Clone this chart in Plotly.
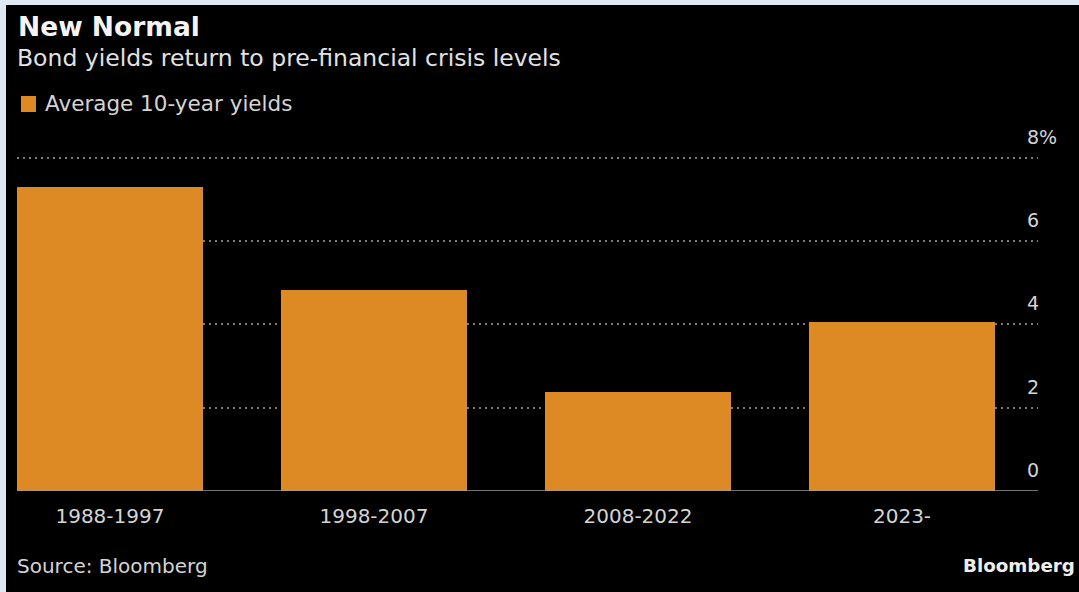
import plotly.graph_objects as go

# Average 10-year bond yields by period (%)
periods = ["1988-1997", "1998-2007", "2008-2022", "2023-"]
avg_yields = [7.30, 4.84, 2.38, 4.06]
series_name = "Average 10-year yields"

tick_vals = [0, 2, 4, 6, 8]
tick_text = ["0", "2", "4", "6", "8%"]

W, H = 1079, 592
BAR = "#DD8A25"
TXT = "#d4d4d4"
FONT = "DejaVu Sans"

# plot area in pixels (y range runs slightly past 8 so the top gridline shows)
Y_MAX = 8.05
px_left, px_right = 17, 1038
px_bottom = 491
px_top = px_bottom - (px_bottom - 157.7) * Y_MAX / 8


def fx(px):
    return px / W


def fy(py):
    return 1 - py / H


fig = go.Figure()
fig.add_trace(go.Bar(
    x=list(range(len(periods))),
    y=avg_yields,
    name=series_name,
    marker=dict(color=BAR, line=dict(width=0)),
    width=0.705,
    showlegend=False,
    hoverinfo="skip",
))

annotations = [
    dict(text="<b>New Normal</b>", x=fx(16), y=fy(26), xanchor="left", yanchor="middle",
         font=dict(family=FONT, size=26.5, color="#f4f4f4")),
    dict(text="Bond yields return to pre-financial crisis levels", x=fx(15), y=fy(58),
         xanchor="left", yanchor="middle", font=dict(family=FONT, size=23.5, color="#e2e2e2")),
    # legend label
    dict(text=series_name, x=fx(43), y=fy(104), xanchor="left", yanchor="middle",
         font=dict(family=FONT, size=21.5, color=TXT)),
    dict(text="Source: Bloomberg", x=fx(15), y=fy(566), xanchor="left", yanchor="middle",
         font=dict(family=FONT, size=20, color=TXT)),
    dict(text="<b>Bloomberg</b>", x=fx(1077), y=fy(565), xanchor="right", yanchor="middle",
         font=dict(family=FONT, size=18.3, color="#eeeeee")),
]
# y-axis labels sit just above their gridlines at the right edge
for v, t in zip(tick_vals, tick_text):
    annotations.append(dict(text=t, x=fx(1025), xref="paper", y=v, yref="y",
                            xanchor="left", yanchor="middle", yshift=21,
                            font=dict(family=FONT, size=19, color=TXT)))
for a in annotations:
    a.setdefault("xref", "paper")
    a.setdefault("yref", "paper")
    a["showarrow"] = False

shapes = [
    # light frame along the left and top edges
    dict(type="rect", xref="paper", yref="paper", x0=0, x1=fx(6), y0=0, y1=1,
         fillcolor="#dfe9f4", line=dict(width=0), layer="above"),
    dict(type="rect", xref="paper", yref="paper", x0=0, x1=1, y0=fy(5), y1=1,
         fillcolor="#dfe9f4", line=dict(width=0), layer="above"),
    # legend swatch
    dict(type="rect", xref="paper", yref="paper", x0=fx(21), x1=fx(36), y0=fy(112), y1=fy(96),
         fillcolor=BAR, line=dict(width=0)),
    # baseline
    dict(type="line", xref="paper", yref="y", x0=fx(px_left), x1=fx(px_right), y0=0, y1=0,
         line=dict(color="#9a9a9a", width=1.5), layer="above"),
]

fig.update_layout(
    width=W, height=H,
    margin=dict(l=0, r=0, t=0, b=0),
    paper_bgcolor="#000000",
    plot_bgcolor="#000000",
    font=dict(family=FONT, color=TXT),
    bargap=0,
    showlegend=False,
    xaxis=dict(
        domain=[fx(px_left), fx(px_right)],
        range=[-0.352, 3.515],
        tickmode="array",
        tickvals=list(range(len(periods))),
        ticktext=periods,
        tickfont=dict(family=FONT, size=20, color=TXT),
        showgrid=False, zeroline=False, showline=False,
        ticks="", ticklabelstandoff=11,
        fixedrange=True,
    ),
    yaxis=dict(
        domain=[fy(px_bottom), fy(px_top)],
        range=[0, Y_MAX],
        tickvals=tick_vals,
        showticklabels=False,
        showgrid=True, gridcolor="#7c7c7c", griddash="2px,4px", gridwidth=1.5,
        zeroline=False, showline=False,
        fixedrange=True,
    ),
    annotations=annotations,
    shapes=shapes,
)

fig.write_html("out.html")
